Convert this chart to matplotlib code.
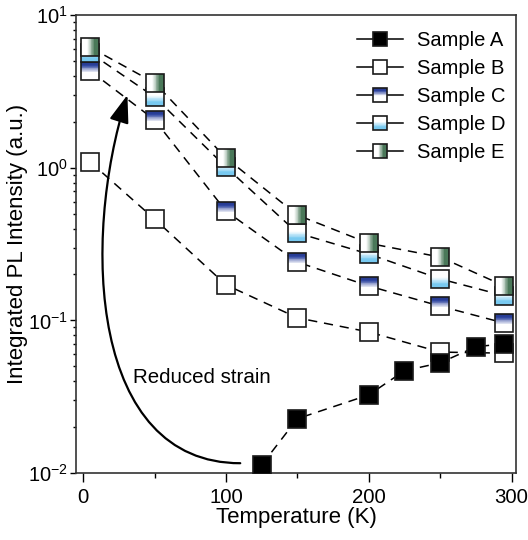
import matplotlib
matplotlib.use("Agg")
import matplotlib.pyplot as plt
import numpy as np
from matplotlib.path import Path
from matplotlib.patches import FancyArrowPatch, ArrowStyle
from matplotlib.lines import Line2D
from matplotlib.legend_handler import HandlerTuple
from matplotlib.ticker import FixedLocator

plt.rcParams["font.family"] = ["Liberation Sans", "DejaVu Sans"]
plt.rcParams["mathtext.default"] = "regular"

# data
temp_a = [125, 150, 200, 225, 250, 275, 295]
sample_a = [0.0113, 0.0227, 0.0325, 0.0468, 0.0527, 0.0672, 0.0703]
temp = [5, 50, 100, 150, 200, 250, 295]
sample_b = [1.09, 0.461, 0.171, 0.104, 0.084, 0.062, 0.061]
sample_c = [4.31, 2.06, 0.52, 0.241, 0.168, 0.124, 0.096]
sample_d = [5.65, 2.91, 1.01, 0.374, 0.272, 0.187, 0.145]
sample_e = [6.14, 3.60, 1.16, 0.49, 0.32, 0.26, 0.168]
labels = ["Sample A", "Sample B", "Sample C", "Sample D", "Sample E"]

# curved arrow control points (temperature, intensity)
arrow_t = [110, 5, -1.5, 31]
arrow_i = [0.0116, 0.0116, 0.33, 3.0]

MS = 13.5
EDGE = "#1a1a1a"
N_STRIPS = 24

# gradient stops: (position, rgb); position 0 = top (or left for horizontal)
grad_c = [(0.0, (0.14, 0.21, 0.54)), (0.22, (0.17, 0.26, 0.62)), (0.58, (1, 1, 1)), (1.0, (1, 1, 1))]
grad_d = [(0.0, (1, 1, 1)), (0.42, (1, 1, 1)), (0.8, (0.47, 0.79, 0.94)), (1.0, (0.47, 0.79, 0.94))]
grad_e = [(0.0, (1, 1, 1)), (0.38, (1, 1, 1)), (0.75, (0.29, 0.47, 0.35)), (1.0, (0.29, 0.47, 0.35))]


def grad_color(stops, p):
    pos = [s[0] for s in stops]
    return tuple(np.interp(p, pos, [s[1][k] for s in stops]) for k in range(3))


def strip_marker(a, b, horizontal):
    # a, b in [0, 1] from top (or left); square spans -0.5..0.5
    eps = 0.012
    lo = max(a - eps, 0.0) - 0.5
    hi = min(b + eps, 1.0) - 0.5
    if horizontal:
        verts = [(lo, -0.5), (hi, -0.5), (hi, 0.5), (lo, 0.5), (lo, -0.5)]
    else:
        verts = [(-0.5, -lo), (0.5, -lo), (0.5, -hi), (-0.5, -hi), (-0.5, -lo)]
    return Path(verts, closed=True)


def gradient_handles(ax, x, y, stops, horizontal, zorder, ms=MS):
    handles = []
    edges = np.linspace(0, 1, N_STRIPS + 1)
    for i in range(N_STRIPS):
        col = grad_color(stops, (edges[i] + edges[i + 1]) / 2)
        (h,) = ax.plot(x, y, ls="none", marker=strip_marker(edges[i], edges[i + 1], horizontal),
                       ms=ms, mfc=col, mec=col, mew=0, zorder=zorder)
        handles.append(h)
    (b,) = ax.plot(x, y, ls="none", marker="s", ms=ms, mfc="none", mec=EDGE, mew=1.2, zorder=zorder + 0.1)
    handles.append(b)
    return handles


fig = plt.figure(figsize=(5.28, 5.40), dpi=100)
ax = fig.add_axes([0.144, 0.124, 0.833, 0.848])
ax.set_yscale("log")

dash = dict(color="black", lw=1.1, ls=(0, (6, 4.5)), zorder=1.5)
ax.plot(temp, sample_b, **dash)
ax.plot(temp, sample_c, **dash)
ax.plot(temp, sample_d, **dash)
ax.plot(temp, sample_e, **dash)
ax.plot(temp_a, sample_a, **dash)

ax.plot(temp, sample_b, ls="none", marker="s", ms=MS, mfc="white", mec=EDGE, mew=1.2, zorder=2)
gradient_handles(ax, temp, sample_c, grad_c, False, 3)
gradient_handles(ax, temp, sample_d, grad_d, False, 4)
gradient_handles(ax, temp, sample_e, grad_e, True, 5)
ax.plot(temp_a, sample_a, ls="none", marker="s", ms=MS, mfc="black", mec=EDGE, mew=1.2, zorder=6)

# legend proxies (solid line through marker)
LEG_MS = 10.5


def proxy(stops=None, horizontal=False, fc=None):
    line = Line2D([], [], color="black", lw=1.1)
    items = [line]
    if stops is None:
        items.append(Line2D([], [], ls="none", marker="s", ms=LEG_MS, mfc=fc, mec=EDGE, mew=1.2))
    else:
        edges = np.linspace(0, 1, N_STRIPS + 1)
        for i in range(N_STRIPS):
            col = grad_color(stops, (edges[i] + edges[i + 1]) / 2)
            items.append(Line2D([], [], ls="none", marker=strip_marker(edges[i], edges[i + 1], horizontal),
                                ms=LEG_MS, mfc=col, mec=col, mew=0))
        items.append(Line2D([], [], ls="none", marker="s", ms=LEG_MS, mfc="none", mec=EDGE, mew=1.2))
    return tuple(items)


handles = [proxy(fc="black"), proxy(fc="white"), proxy(grad_c), proxy(grad_d), proxy(grad_e, True)]
ax.legend(handles, labels, handler_map={tuple: HandlerTuple(ndivide=1, pad=0)},
          loc="upper right", bbox_to_anchor=(1.018, 1.005), frameon=False, fontsize=14.5,
          handlelength=2.3, handletextpad=0.7, labelspacing=0.45)

# curved arrow
verts = list(zip(arrow_t, arrow_i))
arrow = FancyArrowPatch(path=Path(verts, [Path.MOVETO, Path.CURVE4, Path.CURVE4, Path.CURVE4]),
                        arrowstyle=ArrowStyle("-|>", head_length=1.7, head_width=0.6),
                        mutation_scale=10, lw=1.6, color="black", zorder=7)
ax.add_patch(arrow)
ax.text(35, 0.042, "Reduced strain", fontsize=14.8, ha="left", va="center")

ax.set_xlim(-5, 303)
ax.set_ylim(0.01, 10)
ax.xaxis.set_major_locator(FixedLocator([0, 100, 200, 300]))
ax.xaxis.set_minor_locator(FixedLocator([50, 150, 250]))
ax.tick_params(axis="x", which="major", direction="out", length=6.5, width=1.0, labelsize=14.7, pad=4.5)
ax.tick_params(axis="x", which="minor", direction="out", length=3.5, width=1.0)
ax.tick_params(axis="y", which="major", direction="out", length=4, width=1.0, labelsize=14.5, pad=2)
ax.tick_params(axis="y", which="minor", direction="out", length=2.5, width=1.0)
for side in ["top", "right", "bottom", "left"]:
    ax.spines[side].set_linewidth(1.2)
    ax.spines[side].set_color("#333333")

ax.set_xlabel("Temperature (K)", fontsize=16, labelpad=0)
ax.set_ylabel("Integrated PL Intensity (a.u.)", fontsize=16, labelpad=0)

fig.savefig("out.png", dpi=100)
